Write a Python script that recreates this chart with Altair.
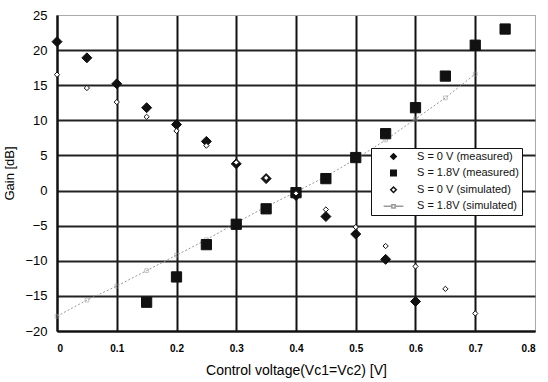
import altair as alt
import pandas as pd

# ---- data ----
x_s0_meas = [0, 0.05, 0.1, 0.15, 0.2, 0.25, 0.3, 0.35, 0.4, 0.45, 0.5, 0.55, 0.6]
y_s0_meas = [21.2, 18.9, 15.2, 11.8, 9.4, 7.0, 3.8, 1.7, -0.7, -3.7, -6.2, -9.8, -15.8]

x_s18_meas = [0.15, 0.2, 0.25, 0.3, 0.35, 0.4, 0.45, 0.5, 0.55, 0.6, 0.65, 0.7, 0.75]
y_s18_meas = [-15.9, -12.3, -7.7, -4.8, -2.6, -0.3, 1.7, 4.7, 8.1, 11.8, 16.3, 20.7, 23.0]

x_s0_sim = [0, 0.05, 0.1, 0.15, 0.2, 0.25, 0.3, 0.35, 0.4, 0.45, 0.5, 0.55, 0.6, 0.65, 0.7]
y_s0_sim = [16.5, 14.6, 12.6, 10.5, 8.5, 6.4, 4.0, 1.8, -0.4, -2.7, -5.2, -7.9, -10.8, -14.0, -17.5]

x_s18_sim = [0, 0.05, 0.1, 0.15, 0.2, 0.25, 0.3, 0.35, 0.4, 0.45, 0.5, 0.55, 0.6, 0.65, 0.7]
y_s18_sim = [-17.9, -15.6, -13.6, -11.4, -9.2, -7.0, -4.6, -2.3, -0.2, 2.0, 4.5, 7.2, 10.2, 13.2, 16.6]

series_names = ["S = 0 V (measured)", "S = 1.8V (measured)",
                "S = 0 V (simulated)", "S = 1.8V (simulated)"]
x_ticks = [0, 0.1, 0.2, 0.3, 0.4, 0.5, 0.6, 0.7, 0.8]
y_ticks = [-20, -15, -10, -5, 0, 5, 10, 15, 20, 25]

def frame(xs, ys, name):
    return pd.DataFrame({"x": xs, "y": ys, "series": name})

df_s0_meas = frame(x_s0_meas, y_s0_meas, series_names[0])
df_s18_meas = frame(x_s18_meas, y_s18_meas, series_names[1])
df_s0_sim = frame(x_s0_sim, y_s0_sim, series_names[2])
sim18 = frame(x_s18_sim, y_s18_sim, series_names[3])

line_sq = "M-3.6,0H-0.6M0.6,0H3.6M-0.6,-0.6H0.6V0.6H-0.6Z"

xenc = alt.X("x:Q", scale=alt.Scale(domain=[0, 0.8], nice=False),
             axis=alt.Axis(values=x_ticks, format="~g", title="Control voltage(Vc1=Vc2) [V]",
                           labelFontWeight="bold", labelFontSize=10, labelPadding=12,
                           titleFontSize=14, titleFontWeight="normal", titlePadding=10, ticks=False,
                           labelOverlap=False,
                           domainColor="#111", domainWidth=2,
                           gridColor={"condition": {"test": "datum.value >= 0.8", "value": "#aaa"}, "value": "#111"},
                           gridWidth={"condition": {"test": "datum.value >= 0.8", "value": 1}, "value": 2}))
yenc = alt.Y("y:Q", scale=alt.Scale(domain=[-20, 25], nice=False),
             axis=alt.Axis(values=y_ticks, title="Gain [dB]", labelFontSize=13, labelPadding=10,
                           titleFontSize=13, titleFontWeight="normal", titlePadding=8, ticks=False,
                           labelOverlap=False,
                           domainColor="#111", domainWidth=2,
                           gridColor={"condition": {"test": "datum.value >= 25", "value": "#aaa"}, "value": "#222"},
                           gridWidth={"condition": {"test": "datum.value >= 25", "value": 1}, "value": 1.8}))

legend = alt.Legend(title=None, orient="none", legendX=314, legendY=133,
                    fillColor="white", strokeColor="#111", padding=3,
                    labelFontSize=11, labelColor="#111", symbolSize=30, rowPadding=3.6,
                    symbolOffset=14, labelOffset=18)

shape_enc = alt.Shape("series:N", scale=alt.Scale(domain=series_names,
                      range=["diamond", "square", "diamond", line_sq]), legend=legend)
fill_enc = alt.Fill("series:N", scale=alt.Scale(domain=series_names,
                    range=["#111", "#111", "white", "white"]), legend=legend)
stroke_enc = alt.Stroke("series:N", scale=alt.Scale(domain=series_names,
                        range=["#111", "#111", "#111", "#999"]), legend=legend)

def point_layer(df, size):
    return alt.Chart(df).mark_point(opacity=1, strokeWidth=1, size=size).encode(
        x=xenc, y=yenc, shape=shape_enc, fill=fill_enc, stroke=stroke_enc)

line = alt.Chart(sim18).mark_line(color="#999", strokeDash=[2, 2], strokeWidth=1).encode(x=xenc, y=yenc)
sqs = alt.Chart(sim18).mark_point(shape="square", size=14, color="#999", filled=False,
                                  strokeWidth=0.8).encode(x=xenc, y=yenc)

chart = alt.layer(
    line, sqs,
    point_layer(df_s0_meas, 100),
    point_layer(df_s18_meas, 105),
    point_layer(df_s0_sim, 28),
).properties(
    width=478, height=316,
    autosize=alt.AutoSizeParams(type="none"),
    padding={"left": 57, "top": 15, "right": 13, "bottom": 51},
).configure(font="Liberation Sans").configure_view(stroke="#aaa", strokeWidth=1)

chart.save("out.html", embed_options={"renderer": "svg", "actions": False})
